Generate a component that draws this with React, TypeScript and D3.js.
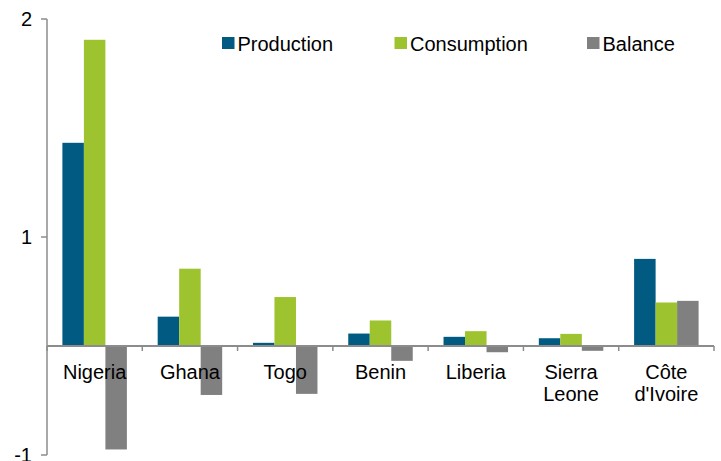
import React from "react";
import * as d3 from "d3";

const categories = ["Nigeria", "Ghana", "Togo", "Benin", "Liberia", "Sierra Leone", "Côte d'Ivoire"];
const categoryLines = [["Nigeria"], ["Ghana"], ["Togo"], ["Benin"], ["Liberia"], ["Sierra", "Leone"], ["Côte", "d'Ivoire"]];
const seriesNames = ["Production", "Consumption", "Balance"];
const production = [1.855, 0.26, 0.02, 0.105, 0.075, 0.062, 0.79];
const consumption = [2.8, 0.7, 0.44, 0.225, 0.127, 0.102, 0.39];
const balance = [-0.94, -0.44, -0.43, -0.127, -0.048, -0.035, 0.405];
const seriesColors = ["#005a82", "#9dc42e", "#808080"];
const yTickValues = [3, 1, -1];
const yTickLabels = ["2", "1", "-1"];

const W = 721;
const H = 461;
const plotLeft = 47;
const plotRight = 714;
const plotTop = 19;
const plotBottom = 455;
const FONT = "'Liberation Sans', Arial, sans-serif";

export default function App() {
  const seriesValues = [production, consumption, balance];
  const x0 = d3.scaleBand<string>().domain(categories).range([plotLeft, plotRight]).paddingInner(0).paddingOuter(0);
  const x1 = d3.scaleBand<string>().domain(seriesNames).range([0, x0.bandwidth()]).paddingInner(0).paddingOuter(0.716);
  const y = d3.scaleLinear().domain([-1, 3]).range([plotBottom, plotTop]);
  const y0 = y(0);
  const axisColor = "#8c8c8c";

  const legendItems = [
    { x: 222, name: seriesNames[0], color: seriesColors[0] },
    { x: 394.5, name: seriesNames[1], color: seriesColors[1] },
    { x: 587, name: seriesNames[2], color: seriesColors[2] },
  ];

  return (
    <svg width={W} height={H} style={{ position: "absolute", left: 0, top: 0, background: "#fff" }} fontFamily={FONT}>
      <rect x={0} y={0} width={W} height={H} fill="#fff" />
      {/* bars */}
      {categories.map((c, i) => (
        <g key={c}>
          {seriesNames.map((s, j) => {
            const v = seriesValues[j][i];
            const bx = (x0(c) as number) + (x1(s) as number);
            const yt = v >= 0 ? y(v) - 1 : y0;
            const hgt = Math.abs(y(v) - y0) + 1;
            return <rect key={s} x={bx} y={yt} width={x1.bandwidth()} height={hgt} fill={seriesColors[j]} />;
          })}
        </g>
      ))}
      {/* y axis */}
      <line x1={plotLeft} x2={plotLeft} y1={plotTop} y2={plotBottom} stroke={axisColor} strokeWidth={1.5} />
      {yTickValues.map((t, i) => (
        <g key={t}>
          <line x1={plotLeft - 6} x2={plotLeft} y1={y(t)} y2={y(t)} stroke={axisColor} strokeWidth={1.5} />
          <text x={32} y={y(t)} dy="0.36em" textAnchor="end" fontSize={20} fill="#000">
            {yTickLabels[i]}
          </text>
        </g>
      ))}
      {/* x axis */}
      <line x1={plotLeft} x2={plotRight} y1={y0} y2={y0} stroke={axisColor} strokeWidth={2} />
      {categories.map((c) => (
        <line key={c} x1={x0(c) as number} x2={x0(c) as number} y1={y0} y2={y0 + 5} stroke={axisColor} strokeWidth={1.5} />
      ))}
      <line x1={plotRight} x2={plotRight} y1={y0} y2={y0 + 5} stroke={axisColor} strokeWidth={1.5} />
      {/* category labels */}
      {categories.map((c, i) => (
        <text key={c} x={(x0(c) as number) + x0.bandwidth() / 2} y={378.5} textAnchor="middle" fontSize={20} fill="#000">
          {categoryLines[i].map((ln, k) => (
            <tspan key={k} x={(x0(c) as number) + x0.bandwidth() / 2} dy={k === 0 ? 0 : 22}>
              {ln}
            </tspan>
          ))}
        </text>
      ))}
      {/* legend */}
      {legendItems.map((it) => (
        <g key={it.name}>
          <rect x={it.x} y={37} width={12.5} height={12} fill={it.color} />
          <text x={it.x + 15.5} y={50.7} fontSize={20} fill="#000">
            {it.name}
          </text>
        </g>
      ))}
    </svg>
  );
}
